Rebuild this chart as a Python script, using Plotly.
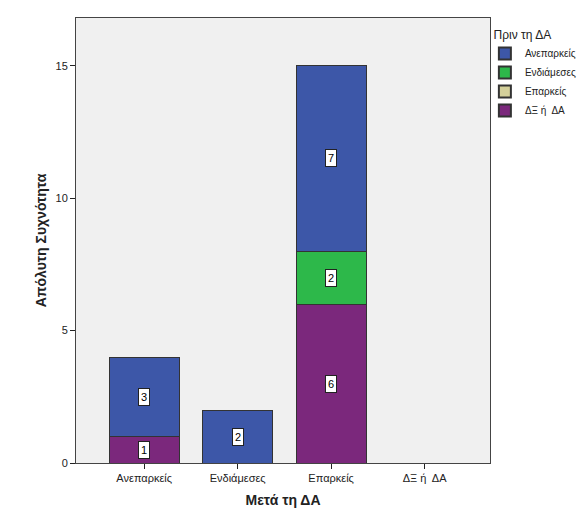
import plotly.graph_objects as go

categories = ["Ανεπαρκείς", "Ενδιάμεσες", "Επαρκείς", "ΔΞ ή  ΔΑ"]
# Stacked from bottom to top
series_names = ["ΔΞ ή  ΔΑ", "Επαρκείς", "Ενδιάμεσες", "Ανεπαρκείς"]
dx_da = [1, None, 6, None]
eparkeis = [None, None, None, None]
endiameses = [None, None, 2, None]
aneparkeis = [3, 2, 7, None]
series_values = [dx_da, eparkeis, endiameses, aneparkeis]
colors = ["#7B287C", "#D4D09A", "#2DB84A", "#3D57A8"]

fig = go.Figure()
for name, vals, col in zip(series_names, series_values, colors):
    fig.add_trace(go.Bar(
        x=categories, y=vals, name=name,
        marker=dict(color=col, line=dict(color="#333333", width=1)),
        width=0.75,
    ))

# value labels in boxes at segment midpoints
cum = [0.0] * len(categories)
for vals in series_values:
    for i, v in enumerate(vals):
        if v:
            fig.add_annotation(
                x=categories[i], y=cum[i] + v / 2, text=str(v), showarrow=False,
                bgcolor="white", bordercolor="#222222", borderwidth=1, borderpad=2,
                font=dict(size=11, color="black", family="Liberation Sans, Arial"),
            )
            cum[i] += v

fig.update_layout(
    width=580, height=521,
    barmode="stack",
    paper_bgcolor="white", plot_bgcolor="#F0F0F0",
    margin=dict(l=76, r=90, t=18, b=58, autoexpand=False),
    font=dict(family="Liberation Sans, Arial", size=11, color="#222222"),
    showlegend=True,
    legend=dict(
        title=dict(text="&nbsp;&nbsp;Πριν τη ΔΑ", font=dict(size=12)),
        traceorder="reversed",
        xref="container", x=0.836, xanchor="left",
        yref="container", y=0.955, yanchor="top",
        font=dict(size=10), itemsizing="constant",
        bgcolor="rgba(0,0,0,0)", tracegroupgap=0,
        itemwidth=30,
    ),
    bargap=0.25,
)
fig.update_xaxes(
    range=[-0.73, 3.7], showgrid=False, ticks="outside", ticklen=5,
    tickcolor="#222222", showline=True, linecolor="#444444", mirror=True,
    automargin=False,
    title=dict(text="<b>Μετά τη ΔΑ</b>", font=dict(size=14, color="#222222"), standoff=11),
    tickfont=dict(size=11),
)
fig.update_yaxes(
    range=[0, 16.8], showgrid=False, ticks="outside", ticklen=5,
    tickcolor="#222222", showline=True, linecolor="#444444", mirror=True,
    tickvals=[0, 5, 10, 15], zeroline=False, automargin=False,
    title=dict(text="<b>Απόλυτη Συχνότητα</b>", font=dict(size=14, color="#222222"), standoff=5),
    tickfont=dict(size=11),
)

fig.write_html("out.html", config={"displayModeBar": False},
               post_script="document.body.style.margin='0';")
